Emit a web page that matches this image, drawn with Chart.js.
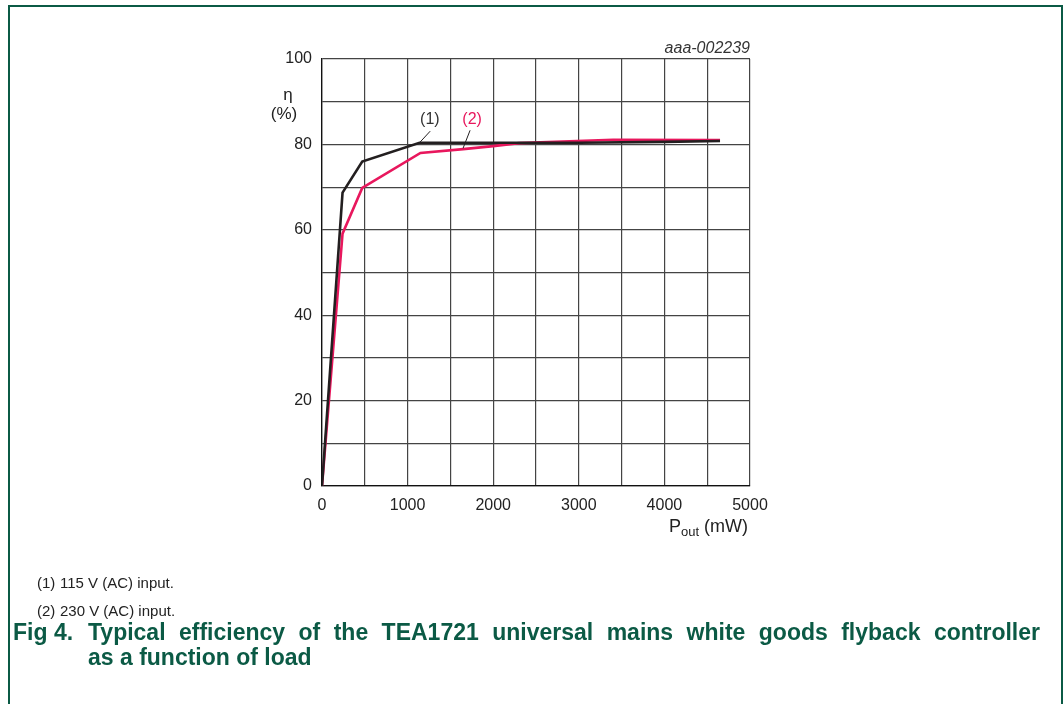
<!DOCTYPE html>
<html>
<head>
<meta charset="utf-8">
<script src="https://cdn.jsdelivr.net/npm/chart.js@4.4.1/dist/chart.umd.min.js"></script>
<style>
  html, body { margin: 0; padding: 0; background: #fff; }
  body { width: 1064px; height: 704px; position: relative; overflow: hidden; font-family: "Liberation Sans", Arial, sans-serif; }
  #frame { position: absolute; left: 8px; top: 5px; width: 1055px; height: 760px; border: 2px solid #0b5a45; box-sizing: border-box; }
  #c { position: absolute; left: 0; top: 0; }
  .note { position: absolute; font-size: 15px; color: #222; white-space: nowrap; }
  .note .num { position: absolute; left: 0; }
  .note .txt { position: absolute; left: 23px; }
  .cap { position: absolute; font-size: 23px; line-height: 25px; font-weight: bold; color: #0b5a45; white-space: nowrap; }
  .cap.just { width: 952px; text-align: justify; text-align-last: justify; white-space: normal; }
</style>
</head>
<body>
<div id="frame"></div>
<canvas id="c" width="1064" height="704"></canvas>
<div class="note" style="left:37px; top:574px;"><span class="num">(1)</span><span class="txt">115 V (AC) input.</span></div>
<div class="note" style="left:37px; top:602px;"><span class="num">(2)</span><span class="txt">230 V (AC) input.</span></div>
<div class="cap" style="left:13px; top:620px;">Fig 4.</div>
<div class="cap just" style="left:88px; top:620px;">Typical efficiency of the TEA1721 universal mains white goods flyback controller</div>
<div class="cap" style="left:88px; top:645px;">as a function of load</div>
<script>
// ---- data ----
const pout115 = [0, 240, 470, 1140, 2000, 3000, 4000, 4650];
const eff115  = [0, 68.7, 76.0, 80.4, 80.4, 80.4, 80.6, 80.8];
const pout230 = [0, 240, 470, 1150, 1650, 2000, 2300, 3400, 4650];
const eff230  = [0, 59.1, 69.8, 78.0, 78.9, 79.6, 80.3, 81.1, 81.0];
const xTickLabels = [0, 1000, 2000, 3000, 4000, 5000];
const yTickLabels = [0, 20, 40, 60, 80, 100];
const seriesLabels = ['(1)', '(2)'];
const chartCode = 'aaa-002239';

const BLACK = '#231f20';
const RED = '#e8175d';
const FONT = '"Liberation Sans", Arial, sans-serif';

const toPts = (xs, ys) => xs.map((x, i) => ({ x: x, y: ys[i] }));

const annot = {
  id: 'annot',
  afterDraw(chart) {
    const ctx = chart.ctx;
    const xs = chart.scales.x, ys = chart.scales.y;
    const ca = chart.chartArea;
    ctx.save();
    const lab = (txt, color, vx, vy, l1, l2) => {
      ctx.fillStyle = color;
      ctx.font = '16px ' + FONT;
      ctx.textAlign = 'center';
      ctx.textBaseline = 'middle';
      ctx.fillText(txt, xs.getPixelForValue(vx), ys.getPixelForValue(vy));
      ctx.strokeStyle = BLACK;
      ctx.lineWidth = 1;
      ctx.beginPath();
      ctx.moveTo(xs.getPixelForValue(l1[0]), ys.getPixelForValue(l1[1]));
      ctx.lineTo(xs.getPixelForValue(l2[0]), ys.getPixelForValue(l2[1]));
      ctx.stroke();
    };
    lab(seriesLabels[0], '#333', 1260, 85.9, [1264, 83.1], [1135, 80.3]);
    lab(seriesLabels[1], RED, 1754, 85.9, [1730, 83.3], [1648, 79.1]);
    // chart code
    ctx.fillStyle = '#333';
    ctx.font = 'italic 16px ' + FONT;
    ctx.textAlign = 'right';
    ctx.textBaseline = 'alphabetic';
    ctx.fillText(chartCode, ca.right, ca.top - 6);
    // y axis title
    ctx.font = '17px ' + FONT;
    ctx.textAlign = 'center';
    ctx.textBaseline = 'middle';
    ctx.fillStyle = '#222';
    ctx.fillText('\u03B7', ca.left - 34, ys.getPixelForValue(91.5));
    ctx.fillText('(%)', ca.left - 38, ys.getPixelForValue(87.0));
    // x axis title  P_out (mW), right aligned to plot edge
    ctx.textBaseline = 'alphabetic';
    ctx.textAlign = 'left';
    ctx.font = '18px ' + FONT;
    const wP = ctx.measureText('P').width, wU = ctx.measureText(' (mW)').width;
    ctx.font = '13px ' + FONT;
    const wS = ctx.measureText('out').width;
    const by = ca.bottom + 46;
    let bx = ca.right - 2 - (wP + wS + wU);
    ctx.font = '18px ' + FONT;
    ctx.fillText('P', bx, by);
    ctx.font = '13px ' + FONT;
    ctx.fillText('out', bx + wP, by + 4);
    ctx.font = '18px ' + FONT;
    ctx.fillText(' (mW)', bx + wP + wS, by);
    ctx.restore();
  }
};

new Chart(document.getElementById('c'), {
  type: 'line',
  data: {
    datasets: [
      { label: seriesLabels[0], data: toPts(pout115, eff115), borderColor: BLACK, borderWidth: 2.6, pointRadius: 0, tension: 0, fill: false, order: 1 },
      { label: seriesLabels[1], data: toPts(pout230, eff230), borderColor: RED, borderWidth: 2.6, pointRadius: 0, tension: 0, fill: false, order: 2 }
    ]
  },
  options: {
    responsive: false,
    animation: false,
    devicePixelRatio: 1,
    layout: { padding: { left: 0, top: 59, right: 314, bottom: 0 } },
    plugins: { legend: { display: false }, tooltip: { enabled: false }, title: { display: false } },
    scales: {
      x: {
        type: 'linear', min: 0, max: 5000,
        afterFit: s => { s.height = 218; },
        afterBuildTicks: s => { const t = []; for (let v = 0; v <= 5000; v += 500) t.push({ value: v }); s.ticks = t; },
        ticks: {
          autoSkip: false, maxRotation: 0, padding: 10, color: '#222',
          font: { family: FONT, size: 16 },
          callback: v => xTickLabels.includes(v) ? String(v) : ''
        },
        grid: { color: '#444', lineWidth: 1.2, drawTicks: false },
        border: { color: '#111', width: 1.3 }
      },
      y: {
        min: 0, max: 100,
        afterFit: s => { s.width = 322; },
        afterBuildTicks: s => { const t = []; for (let v = 0; v <= 100; v += 10) t.push({ value: v }); s.ticks = t; },
        ticks: {
          autoSkip: false, padding: 10, color: '#222',
          font: { family: FONT, size: 16 },
          callback: v => yTickLabels.includes(v) ? String(v) : ''
        },
        grid: { color: '#444', lineWidth: 1.2, drawTicks: false },
        border: { color: '#111', width: 1.3 }
      }
    }
  },
  plugins: [annot]
});
</script>
</body>
</html>
